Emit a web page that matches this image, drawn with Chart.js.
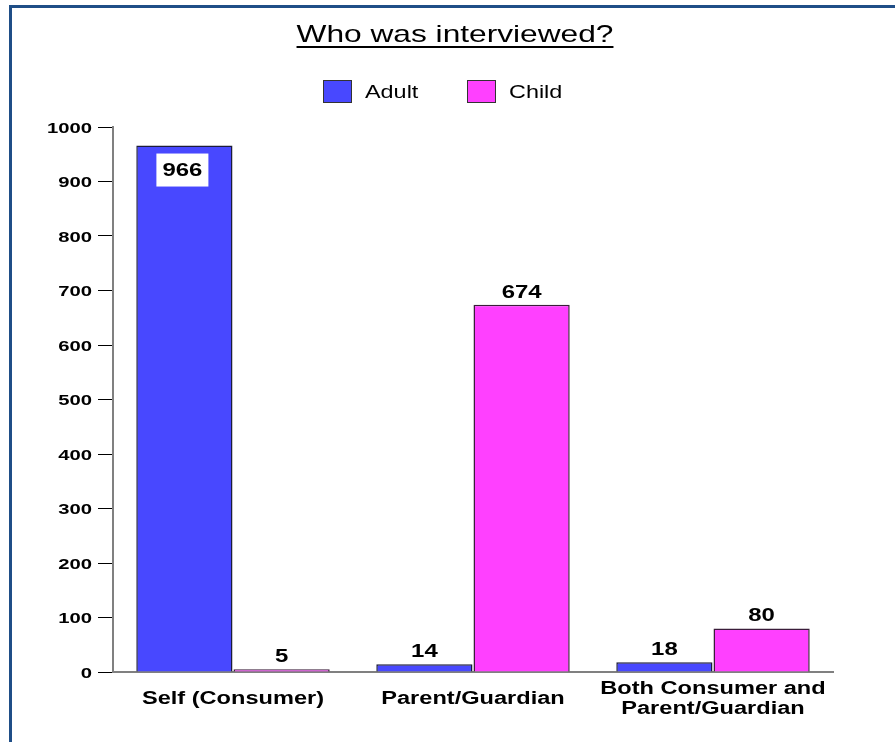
<!DOCTYPE html>
<html>
<head>
<meta charset="utf-8">
<script src="https://cdn.jsdelivr.net/npm/chart.js@4/dist/chart.umd.min.js"></script>
<style>
  html, body { margin: 0; padding: 0; background: #fff; }
  #wrap { width: 895px; height: 742px; position: relative; }
</style>
</head>
<body>
<div id="wrap"><canvas id="chart"></canvas></div>
<script>
const chartTitle = 'Who was interviewed?';
const categories = ['Self (Consumer)', 'Parent/Guardian', ['Both Consumer and', 'Parent/Guardian']];
const seriesNames = ['Adult', 'Child'];
const adultCounts = [966, 14, 18];
const childCounts = [5, 674, 80];
const seriesColors = ['#4848ff', '#ff40ff'];

const FONT = 'Arial, "Liberation Sans", sans-serif';
const SX = 1.3; // text in this chart is drawn a bit wide

function wideText(ctx, text, x, y, font, align, sx) {
  ctx.save();
  ctx.font = font;
  ctx.translate(x, y);
  ctx.scale(sx || SX, 1);
  ctx.textAlign = align || 'center';
  ctx.textBaseline = 'alphabetic';
  ctx.fillStyle = '#000';
  ctx.fillText(text, 0, 0);
  const w = ctx.measureText(text).width * (sx || SX);
  ctx.restore();
  return w;
}

const decor = {
  id: 'decor',
  beforeDraw(chart) {
    const ctx = chart.ctx;
    ctx.save();
    ctx.fillStyle = '#fff';
    ctx.fillRect(0, 0, chart.width, chart.height);
    // frame (only top and left edges fall inside the canvas)
    ctx.strokeStyle = '#1f4e87';
    ctx.lineWidth = 3;
    ctx.strokeRect(10.5, 6.5, chart.width + 20, chart.height + 20);
    ctx.restore();
  },
  afterDraw(chart) {
    const ctx = chart.ctx;
    // title, underlined
    const tw = wideText(ctx, chartTitle, 455, 42, '24px ' + FONT, 'center', 1.32);
    ctx.save();
    ctx.fillStyle = '#000';
    ctx.fillRect(455 - tw / 2, 46, tw, 2);
    ctx.restore();

    // legend
    const legendX = [323, 467];
    seriesNames.forEach((name, i) => {
      ctx.save();
      ctx.fillStyle = seriesColors[i];
      ctx.fillRect(legendX[i], 80, 29, 23);
      ctx.strokeStyle = '#333';
      ctx.lineWidth = 1;
      ctx.strokeRect(legendX[i] + 0.5, 80.5, 28, 22);
      ctx.restore();
      wideText(ctx, name, legendX[i] + 42, 98, '18px ' + FONT, 'left');
    });

    // y tick labels
    const y = chart.scales.y;
    y.ticks.forEach(t => {
      wideText(ctx, String(t.value), 92, y.getPixelForValue(t.value) + 5.5, 'bold 15px ' + FONT, 'right', 1.35);
    });

    // category labels
    const x = chart.scales.x;
    categories.forEach((c, i) => {
      const cx = x.getPixelForValue(i);
      const lines = Array.isArray(c) ? c : [c];
      const mid = 697;
      lines.forEach((ln, k) => {
        const cy = mid + (k - (lines.length - 1) / 2) * 20 + 6.5;
        wideText(ctx, ln, cx, cy, 'bold 18px ' + FONT, 'center', 1.31);
      });
    });
  },
  afterDatasetsDraw(chart) {
    const ctx = chart.ctx;
    chart.data.datasets.forEach((ds, di) => {
      chart.getDatasetMeta(di).data.forEach((bar, i) => {
        const txt = String(ds.data[i]);
        if (bar.y - 30 < chart.chartArea.top) {
          ctx.save();
          ctx.fillStyle = '#fff';
          ctx.fillRect(bar.x - 28, bar.y + 8, 52, 33);
          ctx.restore();
          wideText(ctx, txt, bar.x - 2, bar.y + 30, 'bold 18px ' + FONT, 'center', 1.33);
        } else {
          wideText(ctx, txt, bar.x, bar.y - 7, 'bold 18px ' + FONT, 'center', 1.33);
        }
      });
    });
  }
};

new Chart(document.getElementById('chart'), {
  type: 'bar',
  data: {
    labels: categories,
    datasets: [
      { label: seriesNames[0], data: adultCounts, backgroundColor: seriesColors[0], borderColor: '#1c1c3a', borderWidth: 1.5 },
      { label: seriesNames[1], data: childCounts, backgroundColor: seriesColors[1], borderColor: '#3a1c3a', borderWidth: 1.5 }
    ]
  },
  options: {
    responsive: true,
    maintainAspectRatio: false,
    animation: false,
    categoryPercentage: 0.81,
    barPercentage: 0.99,
    layout: { padding: { left: 13, right: 62, top: 127, bottom: 0 } },
    plugins: { legend: { display: false }, title: { display: false }, tooltip: { enabled: false } },
    scales: {
      x: {
        grid: { display: false },
        border: { color: '#808080', width: 2 },
        ticks: { display: false },
        afterFit: s => { s.height = 70; }
      },
      y: {
        min: 0, max: 1000,
        ticks: { stepSize: 100, display: false },
        grid: { drawOnChartArea: false, tickLength: 15, color: '#000', lineWidth: 1 },
        border: { color: '#808080', width: 2 },
        afterFit: s => { s.width = 100; }
      }
    }
  },
  plugins: [decor]
});
</script>
</body>
</html>
